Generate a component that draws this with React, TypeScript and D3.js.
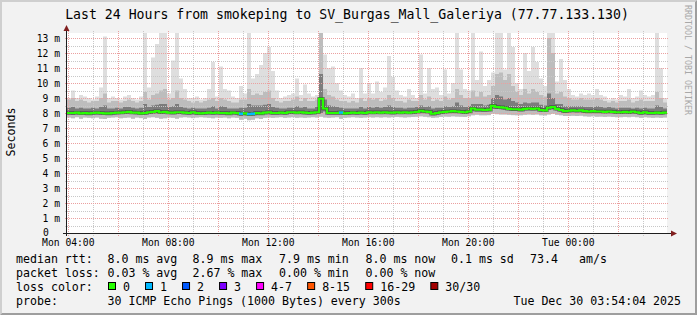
import React from "react";
import * as d3 from "d3";

// ---------- data ----------
const titleText = "Last 24 Hours from smokeping to SV_Burgas_Mall_Galeriya (77.77.133.130)";
const startTime = new Date(2025, 11, 29, 3, 56, 53);
const spanMs = 24 * 3600 * 1000;

// per 9.6-minute column, values in ms
const medianMs = [
  8.00,8.00,8.02,7.98,8.00,7.97,8.00,8.02,8.00,7.98,
  7.97,8.00,8.02,8.03,8.05,8.08,8.03,8.02,7.98,8.00,
  8.05,8.08,8.12,8.05,8.08,8.03,8.02,8.05,8.05,8.02,
  8.00,8.05,8.00,7.98,8.00,8.02,8.00,8.02,8.00,8.00,
  7.97,8.02,8.00,7.95,7.97,7.93,7.95,8.00,7.97,8.02,
  8.05,8.00,8.00,8.02,8.00,8.05,8.05,8.03,8.05,8.02,
  8.00,8.02,8.05,8.95,8.30,8.00,8.00,8.00,8.03,7.98,
  8.00,8.02,8.00,8.03,8.00,8.05,8.03,8.05,8.03,8.05,
  8.03,8.02,8.05,8.03,8.05,8.03,8.05,8.08,8.15,8.10,
  8.08,7.95,8.00,8.05,8.08,8.10,8.12,8.10,8.08,8.05,
  8.10,8.30,8.22,8.22,8.20,8.22,8.48,8.40,8.38,8.35,
  8.28,8.25,8.25,8.22,8.28,8.30,8.28,8.30,8.20,8.18,
  8.35,8.40,8.28,8.20,8.12,8.15,8.18,8.15,8.17,8.12,
  8.10,8.12,8.10,8.10,8.08,8.10,8.08,8.05,8.05,8.08,
  8.05,8.10,8.05,8.00,8.05,8.00,8.00,8.02,8.00,8.03,
];
const maxMs = [
  9.0,9.5,9.0,9.2,9.1,9.0,8.9,9.1,9.7,13.1,
  9.0,9.1,9.0,8.9,9.1,9.2,9.0,8.9,9.1,13.4,
  9.7,11.7,12.6,13.4,13.4,9.3,11.5,13.4,10.3,9.6,
  9.0,9.0,9.1,8.9,9.0,9.6,11.4,9.1,11.1,9.6,
  9.5,9.1,9.0,9.8,9.3,13.4,10.3,10.6,11.2,12.0,
  12.4,10.8,9.5,9.0,9.1,9.2,9.3,10.3,9.2,9.9,
  9.3,9.1,9.2,13.4,11.9,11.0,11.1,10.0,9.5,9.2,
  9.1,9.3,9.0,11.0,9.3,10.0,9.3,10.1,9.4,9.7,
  11.8,10.4,9.5,9.2,9.1,9.6,9.2,9.0,11.9,9.3,
  11.0,9.6,9.7,9.2,10.9,9.3,10.0,13.4,10.9,9.6,
  9.5,13.4,10.2,12.1,9.8,10.2,10.7,13.4,13.4,10.9,
  13.4,12.4,10.0,9.6,12.0,10.8,12.4,11.4,10.3,9.8,
  13.4,13.4,10.1,11.6,10.2,9.6,9.2,9.1,9.3,9.2,
  9.3,9.2,9.6,9.2,9.1,8.9,9.0,8.9,9.2,9.1,
  9.6,9.0,9.1,9.5,9.2,9.1,9.2,13.4,11.0,9.0,
];
const p90Ms = [
  8.9,9.0,8.8,8.9,8.8,8.7,8.8,8.8,9.0,9.3,
  8.7,8.8,8.8,8.7,8.8,8.9,8.8,8.7,8.8,9.4,
  8.9,9.2,9.3,9.5,9.6,8.9,9.0,9.5,9.0,8.9,
  8.8,8.7,8.8,8.7,8.8,8.9,9.0,8.8,9.0,8.9,
  8.8,8.7,8.7,8.9,8.9,9.6,9.2,9.3,9.2,9.4,
  9.5,9.0,8.8,8.7,8.8,8.8,8.9,9.1,8.8,9.0,
  8.8,8.8,8.9,13.4,9.6,9.2,9.1,8.9,8.8,8.8,
  8.7,8.8,8.7,9.0,8.8,9.0,8.9,9.0,8.8,8.9,
  9.2,9.0,8.8,8.8,8.7,8.9,8.8,8.8,9.2,8.9,
  9.1,8.8,8.9,8.8,9.1,8.9,9.0,9.6,9.2,9.0,
  9.0,9.5,9.1,9.4,9.1,9.2,9.8,10.6,10.7,10.2,
  10.6,9.8,9.4,9.2,9.6,9.3,9.6,9.4,9.2,9.1,
  13.0,12.0,9.3,9.4,9.1,9.0,8.9,8.9,9.0,8.9,
  8.9,8.9,9.0,8.9,8.8,8.7,8.8,8.7,8.8,8.8,
  8.9,8.7,8.8,8.9,8.8,8.8,8.8,9.4,9.0,8.7,
];
const p75Ms = [
  8.35,8.4,8.3,8.35,8.3,8.3,8.35,8.3,8.4,8.5,
  8.3,8.3,8.35,8.3,8.4,8.4,8.35,8.3,8.35,8.6,
  8.4,8.5,8.55,8.6,8.6,8.4,8.45,8.6,8.4,8.35,
  8.3,8.35,8.3,8.3,8.3,8.35,8.45,8.3,8.45,8.4,
  8.3,8.3,8.3,8.35,8.35,8.6,8.5,8.5,8.5,8.55,
  8.6,8.4,8.35,8.3,8.3,8.35,8.35,8.45,8.35,8.4,
  8.3,8.3,8.4,10.6,8.9,8.5,8.45,8.4,8.35,8.3,
  8.3,8.3,8.3,8.4,8.3,8.4,8.35,8.4,8.35,8.4,
  8.5,8.4,8.35,8.35,8.3,8.35,8.35,8.4,8.5,8.4,
  8.45,8.3,8.35,8.35,8.45,8.4,8.45,8.7,8.5,8.4,
  8.45,8.6,8.6,8.6,8.5,8.55,9.0,9.2,9.1,8.9,
  9.0,8.8,8.7,8.6,8.7,8.65,8.7,8.7,8.55,8.5,
  9.3,9.0,8.6,8.6,8.45,8.45,8.45,8.45,8.45,8.4,
  8.4,8.4,8.45,8.4,8.35,8.4,8.35,8.3,8.35,8.35,
  8.35,8.3,8.35,8.3,8.35,8.3,8.3,8.5,8.4,8.3,
];
const p25Ms = [
  7.90,7.88,7.92,7.88,7.90,7.87,7.90,7.92,7.90,7.88,
  7.87,7.90,7.92,7.93,7.95,7.97,7.93,7.92,7.88,7.90,
  7.95,7.97,8.00,7.95,7.97,7.93,7.92,7.95,7.95,7.92,
  7.90,7.95,7.90,7.88,7.90,7.92,7.90,7.92,7.90,7.90,
  7.87,7.92,7.90,7.82,7.87,7.80,7.82,7.90,7.87,7.92,
  7.95,7.90,7.90,7.92,7.90,7.95,7.95,7.93,7.95,7.92,
  7.90,7.92,7.95,8.00,8.10,7.90,7.90,7.90,7.90,7.88,
  7.90,7.92,7.90,7.92,7.90,7.95,7.93,7.95,7.93,7.95,
  7.93,7.92,7.95,7.93,7.95,7.93,7.95,7.97,8.03,8.00,
  7.97,7.85,7.90,7.95,7.97,8.00,8.02,8.00,7.97,7.95,
  8.00,8.15,8.10,8.10,8.10,8.12,8.30,8.28,8.25,8.22,
  8.18,8.15,8.15,8.12,8.17,8.18,8.17,8.18,8.10,8.07,
  8.22,8.28,8.17,8.10,8.02,8.05,8.07,8.05,8.07,8.02,
  8.00,8.02,8.00,8.00,7.98,8.00,7.98,7.95,7.95,7.98,
  7.95,8.00,7.95,7.90,7.95,7.90,7.90,7.92,7.90,7.93,
];
const minMs = [
  7.70,7.65,7.72,7.62,7.70,7.68,7.65,7.70,7.62,7.60,
  7.68,7.70,7.72,7.65,7.68,7.70,7.62,7.70,7.66,7.60,
  7.70,7.72,7.68,7.62,7.65,7.70,7.68,7.62,7.70,7.72,
  7.70,7.66,7.70,7.72,7.70,7.68,7.65,7.70,7.68,7.70,
  7.65,7.70,7.68,7.55,7.62,7.52,7.55,7.65,7.60,7.68,
  7.70,7.68,7.70,7.72,7.68,7.70,7.72,7.68,7.70,7.68,
  7.70,7.72,7.70,7.75,7.70,7.68,7.70,7.72,7.62,7.68,
  7.70,7.72,7.70,7.68,7.70,7.72,7.70,7.72,7.70,7.72,
  7.70,7.72,7.74,7.72,7.70,7.72,7.74,7.75,7.78,7.75,
  7.72,7.68,7.70,7.74,7.76,7.75,7.78,7.76,7.75,7.74,
  7.78,7.85,7.88,7.85,7.85,7.86,7.95,7.92,7.90,7.90,
  7.88,7.86,7.85,7.85,7.88,7.90,7.88,7.90,7.85,7.84,
  7.90,7.95,7.88,7.85,7.80,7.80,7.82,7.80,7.82,7.78,
  7.76,7.78,7.75,7.76,7.74,7.76,7.74,7.72,7.72,7.74,
  7.72,7.75,7.72,7.68,7.72,7.70,7.68,7.70,7.68,7.70,
];
// columns with packet loss (pings lost out of 30)
const lossColumns = [43, 45, 46, 68];
const lossCounts = [1, 1, 1, 1];

const lossLabels = ["0", "1", "2", "3", "4-7", "8-15", "16-29", "30/30"];
const lossColors = ["#26ff00", "#00b8ff", "#0059ff", "#7e00ff", "#ff00ff", "#ff5500", "#ff0000", "#a10000"];

const rttLabels = ["8.0 ms avg", "8.9 ms max", "7.9 ms min", "8.0 ms now", "0.1 ms sd", "73.4", "am/s"];
const lossStatLabels = ["0.03 % avg", "2.67 % max", "0.00 % min", "0.00 % now"];
const probeText = "30 ICMP Echo Pings (1000 Bytes) every 300s";
const dateText = "Tue Dec 30 03:54:04 2025";

// ---------- layout ----------
const W = 697, H = 315;
const PL = 67, PR = 667, PT = 33, PB = 233;
const MONO = "'DejaVu Sans Mono', monospace";

function lossIndex(n: number) {
  if (n <= 3) return n;
  if (n <= 7) return 4;
  if (n <= 15) return 5;
  if (n <= 29) return 6;
  return 7;
}

export default function App() {
  const endTime = new Date(startTime.getTime() + spanMs);
  const x = d3.scaleTime().domain([startTime, endTime]).range([PL, PR]);
  const y = d3.scaleLinear().domain([0, 200 / 15]).range([PB, PT]);
  const n = medianMs.length;
  const step = spanMs / n;
  const tx = (i: number) => x(new Date(startTime.getTime() + i * step));

  const hourTicks = d3.timeHour.every(1)!.range(startTime, endTime);
  const majorX = hourTicks.filter((d) => d.getHours() % 2 === 0);
  const minorX = hourTicks.filter((d) => d.getHours() % 2 === 1);
  const labelX = hourTicks.filter((d) => d.getHours() % 4 === 0);
  const fmt = d3.timeFormat("%a %H:%M");

  const majorY = d3.range(1, 14);
  const minorY = d3.range(0.5, 13.4, 1);

  const pts: [number, number][] = medianMs.map((v, i) => [tx(i), y(v)]);
  pts.push([tx(n), y(medianMs[n - 1])]);
  const stepLine = d3.line().curve(d3.curveStepAfter);
  const medPath = stepLine(pts) || "";

  const band = (lo: number[], hi: number[], fill: string, key: string) =>
    lo.map((l, i) => {
      const y0 = y(l), y1 = Math.max(PT, y(hi[i]));
      return (
        <rect key={key + i} x={tx(i)} y={y1} width={tx(i + 1) - tx(i) + 0.01} height={Math.max(0, y0 - y1)} fill={fill} />
      );
    });

  // legend layout
  let bx = 108;
  const legendItems = lossLabels.map((lab, i) => {
    const item = { x: bx, lab, color: lossColors[i] };
    bx = bx + 15 + lab.length * 7.02 + 15;
    return item;
  });
  const rttX = [107.5, 192.5, 279, 365.5, 451, 530, 579];

  return (
    <svg width={W} height={H} style={{ position: "fixed", left: 0, top: 0 }} fontFamily={MONO}>
      <rect x={0} y={0} width={W} height={H} fill="#f2f2f2" />
      {/* 3D border */}
      <polygon points={`0,0 ${W},0 ${W - 2},2 2,2 2,${H - 2} 0,${H}`} fill="#cfcfcf" />
      <polygon points={`${W},0 ${W},${H} 0,${H} 2,${H - 2} ${W - 2},${H - 2} ${W - 2},2`} fill="#9e9e9e" />

      <text x={347} y={18.5} textAnchor="middle" fontSize={13.2} fill="#000">{titleText}</text>

      {/* canvas */}
      <rect x={PL} y={PT} width={PR - PL} height={PB - PT} fill="#ffffff" />

      {/* smoke */}
      <g>
        {band(minMs, maxMs, "#dedede", "a")}
        {band(minMs, p90Ms, "#bdbdbd", "b")}
        {band(p25Ms, p75Ms, "#7c7c7c", "c")}
      </g>

      {/* grid */}
      <g strokeWidth={1} strokeDasharray="1,1" shapeRendering="crispEdges">
        {minorY.map((v) => (
          <line key={"my" + v} x1={PL - 2} x2={PR + 2} y1={Math.round(y(v)) + 0.5} y2={Math.round(y(v)) + 0.5} stroke="#c8c8c8" />
        ))}
        {minorX.map((d, i) => (
          <line key={"mx" + i} x1={Math.round(x(d)) + 0.5} x2={Math.round(x(d)) + 0.5} y1={PT - 2} y2={PB + 3} stroke="#c8c8c8" />
        ))}
        {majorY.map((v) => (
          <line key={"My" + v} x1={PL - 2} x2={PR + 2} y1={Math.round(y(v)) + 0.5} y2={Math.round(y(v)) + 0.5} stroke="#eba0a0" />
        ))}
        {majorX.map((d, i) => (
          <line key={"Mx" + i} x1={Math.round(x(d)) + 0.5} x2={Math.round(x(d)) + 0.5} y1={PT - 2} y2={PB + 3} stroke="#eba0a0" />
        ))}
      </g>

      {/* median */}
      <path d={medPath} fill="none" stroke="#2a2a2a" strokeOpacity={0.55} strokeWidth={3.4} />
      <path d={medPath} fill="none" stroke={lossColors[0]} strokeWidth={2.2} />
      {lossColumns.map((c, k) => (
        <path
          key={"l" + k}
          d={`M${tx(c)},${y(medianMs[c])}H${tx(c + 1)}`}
          stroke={lossColors[lossIndex(lossCounts[k])]}
          strokeWidth={2.4}
          fill="none"
        />
      ))}

      {/* axes */}
      <line x1={66.5} x2={66.5} y1={PB + 3} y2={29} stroke="#1f1f1f" />
      <polygon points="63.5,31 69.5,31 66.5,25" fill="#801f1f" />
      <line x1={63} x2={672} y1={233.5} y2={233.5} stroke="#1f1f1f" />
      <polygon points="671,230.5 671,236.5 677,233.5" fill="#801f1f" />

      {/* y tick labels */}
      {d3.range(0, 14).map((v) =>
        v === 0 ? (
          <text key={"yl" + v} x={43} y={y(v) + 3} fontSize={9.7} fill="#000">0</text>
        ) : (
          <text key={"yl" + v} x={60} y={y(v) + 3.6} textAnchor="end" fontSize={9.7} fill="#000">
            {`${v} m`}
          </text>
        )
      )}
      {/* x tick labels */}
      {labelX.map((d, i) => (
        <text key={"xl" + i} x={x(d)} y={245.5} textAnchor="middle" fontSize={9.7} fill="#000">
          {fmt(d)}
        </text>
      ))}

      <text transform="translate(15,132) rotate(-90)" textAnchor="middle" fontSize={11.6} fill="#000">Seconds</text>
      <text transform="translate(685,5) rotate(90)" fontSize={8.3} fill="#a8a8a8">RRDTOOL / TOBI OETIKER</text>

      {/* legend */}
      <g fontSize={11.6} fill="#000">
        <text x={16} y={263}>median rtt:</text>
        {rttLabels.map((t, i) => (
          <text key={"r" + i} x={rttX[i]} y={263}>{t}</text>
        ))}
        <text x={16} y={277}>packet loss:</text>
        {lossStatLabels.map((t, i) => (
          <text key={"p" + i} x={rttX[i]} y={277}>{t}</text>
        ))}
        <text x={16} y={291}>loss color:</text>
        {legendItems.map((it, i) => (
          <g key={"lg" + i}>
            <rect x={it.x + 0.5} y={282.5} width={7} height={7} fill={it.color} stroke="#000" strokeWidth={1} />
            <text x={it.x + 15} y={291}>{it.lab}</text>
          </g>
        ))}
        <text x={16} y={305}>probe:</text>
        <text x={107.5} y={305}>{probeText}</text>
        <text x={681} y={305} textAnchor="end">{dateText}</text>
      </g>
    </svg>
  );
}
